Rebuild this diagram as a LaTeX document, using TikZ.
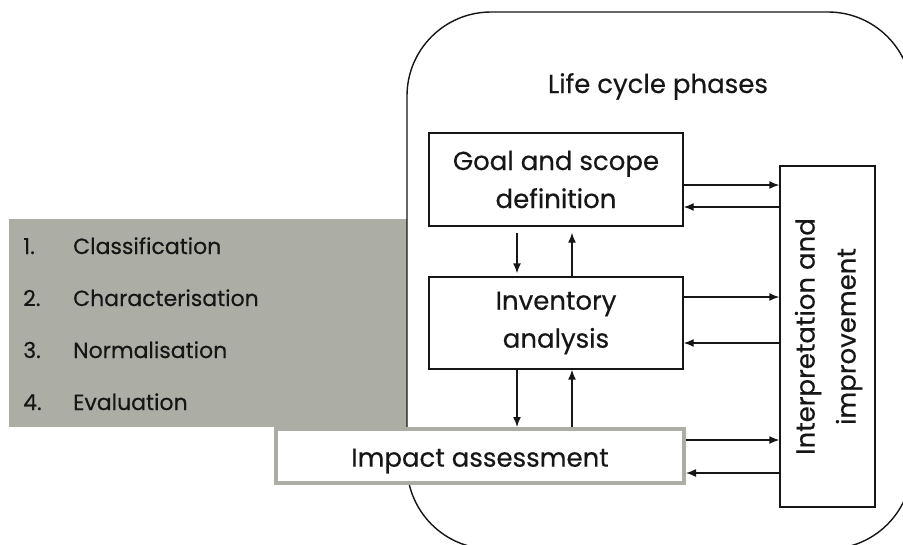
\documentclass[tikz,border=0pt]{standalone}
\usepackage{fontspec}
\setmainfont{Poppins}[RawFeature={embolden=0.4}]
\usetikzlibrary{arrows.meta}
\definecolor{panelgrey}{RGB}{172,174,166}
\definecolor{ink}{RGB}{22,22,22}
\tikzset{
  phasebox/.style={draw=ink, line width=1.4pt, fill=white, align=center,
    inner sep=0pt, text=ink, font=\fontsize{26}{38}\selectfont},
  flow/.style={draw=ink, line width=1.4pt, -{Latex[length=10pt,width=8pt]}},
  listtext/.style={anchor=base west, inner sep=0pt, text=ink,
    font=\fontsize{22}{24}\selectfont}
}
\begin{document}
\begin{tikzpicture}[x=1pt,y=-1pt]
\useasboundingbox (0,0) rectangle (903,544);

% grey list panel and the rounded frame of the life cycle phases
\begin{scope}
  \clip (0,0) rectangle (903,544);
  \fill[panelgrey] (9,219) rectangle (407,427);
  \draw[ink, line width=1.4pt, rounded corners=84pt] (407,12) rectangle (912,549);
\end{scope}

% list of impact assessment steps
\node[listtext] (n1) at (23,254) {1.};
\node[listtext] (t1) at (73,254) {Classification};
\node[listtext] (n2) at (23,306) {2.};
\node[listtext] (t2) at (73,306) {Characterisation};
\node[listtext] (n3) at (23,358) {3.};
\node[listtext] (t3) at (73,358) {Normalisation};
\node[listtext] (n4) at (23,410) {4.};
\node[listtext] (t4) at (73,410) {Evaluation};

% heading
\node[anchor=base, inner sep=0pt, text=ink, font=\fontsize{26}{30}\selectfont]
  (title) at (658,93) {Life cycle phases};

% phase boxes
\node[phasebox, minimum width=254pt, minimum height=93pt] (goal) at (556,179.5)
  {Goal and scope\\definition};
\node[phasebox, minimum width=254pt, minimum height=92pt] (inv) at (556,323)
  {Inventory\\analysis};
\node[phasebox, draw=panelgrey, line width=4pt, minimum width=408pt,
  minimum height=54pt] (impact) at (480,456)
  {\raisebox{-5pt}[\height][\depth]{Impact assessment}};
\node[phasebox, minimum width=95pt, minimum height=341pt] (interp) at (827.5,336.5)
  {\rotatebox{90}{\begin{tabular}{@{}c@{}}Interpretation and\\[3pt]improvement\end{tabular}}};

% vertical flows between phases
\draw[flow, shorten <=6pt, shorten >=3pt] (goal.south -| 517,0) -- (inv.north -| 517,0);
\draw[flow, shorten >=6pt] (inv.north -| 572,0) -- (goal.south -| 572,0);
\draw[flow] (inv.south -| 517,0) -- (impact.north -| 517,0);
\draw[flow] (impact.north -| 572,0) -- (inv.south -| 572,0);

% flows to and from interpretation
\draw[flow] (goal.east |- 0,185) -- (interp.west |- 0,185);
\draw[flow] (interp.west |- 0,207) -- (goal.east |- 0,207);
\draw[flow] (inv.east |- 0,297) -- (interp.west |- 0,297);
\draw[flow] (interp.west |- 0,343) -- (inv.east |- 0,343);
\draw[flow] (impact.east |- 0,440) -- (interp.west |- 0,440);
\draw[flow] (interp.west |- 0,473) -- (impact.east |- 0,473);
\end{tikzpicture}
\end{document}
